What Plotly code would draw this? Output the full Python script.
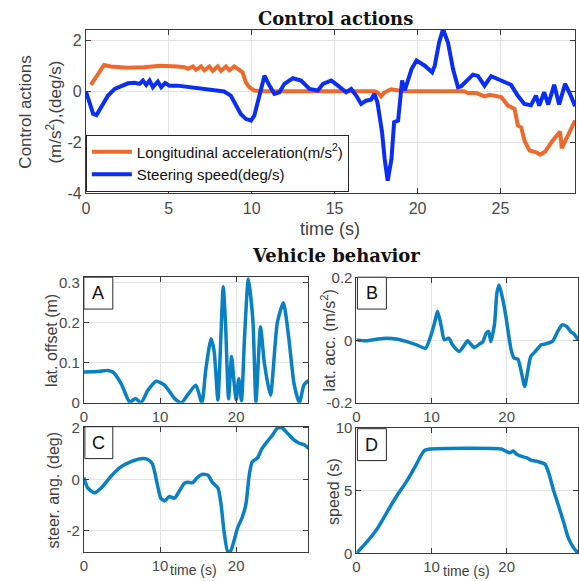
import plotly.graph_objects as go

# ---------------- data ----------------
acc_t = [0.3, 1.1, 1.5, 2.5, 3.5, 4.5, 5.5, 5.95, 6.15, 6.45, 6.65, 6.95, 7.15, 7.45, 7.65, 7.95,
         8.15, 8.45, 8.65, 8.95, 9.15, 9.45, 9.65, 9.85, 10.15, 10.6, 17.4, 17.6, 17.8, 18.0, 18.4,
         18.8, 19.2, 22.8, 23.05, 23.55, 24.05, 24.35, 25.05, 25.45, 25.85, 26.05, 26.25, 26.45,
         26.75, 27.15, 27.4, 27.7, 28.15, 28.6, 28.7, 29.5]
acc_v = [0.25, 1.03, 0.97, 0.92, 0.94, 1.0, 0.97, 0.94, 0.88, 0.97, 0.84, 0.97, 0.82, 0.97, 0.80, 0.97,
         0.80, 0.97, 0.82, 0.97, 0.88, 0.74, 0.35, 0.16, 0.03, 0.0, 0.0, -0.05, -0.2, -0.05, 0.08,
         0.03, 0.0, 0.0, -0.07, -0.07, -0.2, -0.14, -0.23, -0.56, -0.69, -1.34, -1.41, -1.93,
         -2.32, -2.39, -2.48, -2.36, -1.93, -1.58, -2.23, -1.15]

steer_t = [0, 0.2, 0.44, 0.64, 0.94, 1.34, 1.74, 2.14, 2.54, 2.94, 3.24, 3.44, 3.64, 3.84, 4.04, 4.34,
           4.54, 4.78, 5.04, 5.54, 6.04, 6.54, 7.14, 7.74, 8.34, 8.74, 9.04, 9.34, 9.64, 9.96, 10.16,
           10.36, 10.56, 10.77, 11.07, 11.37, 11.67, 11.97, 12.48, 12.98, 13.49, 13.99, 14.3, 14.8,
           15.2, 15.7, 16.0, 16.3, 16.6, 16.9, 17.2, 17.4, 17.58, 17.86, 18.02, 18.2, 18.43, 18.59,
           18.83, 18.93, 19.07, 19.23, 19.44, 19.64, 19.94, 20.44, 20.88, 21.04, 21.3, 21.54, 21.84,
           22.14, 22.44, 22.64, 23.34, 23.64, 24.04, 24.44, 25.04, 25.64, 26.04, 26.44, 26.84, 27.14,
           27.34, 27.64, 27.88, 28.24, 28.54, 28.9, 29.24, 29.5]
steer_v = [0, -0.43, -0.89, -0.93, -0.63, -0.17, 0.09, 0.22, 0.31, 0.33, 0.29, 0.42, 0.25, 0.42, 0.16, 0.38,
           0.16, 0.32, 0.22, 0.22, 0.18, 0.13, 0.12, 0.05, -0.01, -0.17, -0.56, -0.89, -1.08, -1.15, -0.95,
           -0.43, 0.22, 0.61, 0.22, -0.1, -0.04, 0.29, 0.51, 0.42, 0.09, 0.03, 0.29, 0.42,
           0.22, -0.04, 0.09, -0.17, -0.5, -0.37, -0.33, -0.1, -0.43, -1.6, -2.65, -3.5, -2.65, -1.21,
           -1.15, -0.56, 0.42, 0.03, 0.42, 0.87, 1.2, 1.0, 0.74, 1.0, 1.9, 2.43, 1.9,
           0.87, 0.16, 0.2, 0.65, 0.6, 0.22, 0.59, 0.42, 0.25, -0.17, -0.5, -0.55, -0.17,
           -0.56, -0.04, -0.52, 0.25, -0.52, 0.29, -0.17, -0.59]

lat_off_t = [0, 1.9, 3.1, 3.8, 4.9, 6.0, 6.4, 6.8, 7.5, 8.4, 9.5, 10.6, 11.9, 12.8, 13.6, 14.7, 15.5,
             16.0, 16.7, 17.1, 17.6, 17.9, 18.3, 18.6, 19.0, 19.4, 19.7, 20.0, 20.35, 20.7, 21.1,
             21.6, 22.2, 22.6, 23.2, 23.7, 24.5, 25.4, 26.2, 26.9, 27.6, 28.3, 28.9, 29.5]
lat_off_v = [0.077, 0.078, 0.081, 0.077, 0.048, 0.002, 0.006, 0.011, 0.0, 0.031, 0.054, 0.044, 0.011,
             0.0, 0.019, 0.044, 0.0, 0.081, 0.16, 0.13, 0.007, 0.12, 0.29, 0.2, 0.01, 0.116, 0.056,
             0.007, 0.06, 0.005, 0.164, 0.31, 0.205, 0.002, 0.19, 0.1, 0.019, 0.2, 0.25, 0.164,
             0.048, 0.0, 0.044, 0.056]

lat_acc_t = [0, 1.3, 2.65, 4.0, 5.3, 6.6, 8.0, 9.2, 9.8, 10.4, 10.8, 11.3, 11.7, 12.3, 12.8, 13.7,
             14.4, 14.8, 15.3, 15.7, 16.4, 16.8, 17.3, 17.6, 17.9, 18.4, 18.7, 19.0, 19.5, 19.9,
             20.6, 21.0, 21.5, 21.9, 22.4, 22.8, 23.2, 23.9, 24.6, 25.2, 26.1, 26.8, 27.4, 28.0,
             28.5, 29.0, 29.5]
lat_acc_v = [0.002, -0.001, 0.004, 0.0075, 0.005, -0.003, -0.014, -0.025, 0.0075, 0.056, 0.094, 0.045,
             0.002, 0.0075, -0.014, -0.035, -0.014, -0.001, -0.014, -0.023, -0.011, -0.005, 0.024,
             0.029, -0.003, 0.056, 0.152, 0.178, 0.13, 0.077, -0.03, -0.057, -0.06, -0.095, -0.148,
             -0.1, -0.052, -0.033, -0.014, -0.011, -0.003, 0.029, 0.05, 0.045, 0.029, 0.02, 0.002]

steer_ang_t = [0, 0.5, 1.4, 2.3, 3.6, 4.9, 6.2, 7.5, 8.4, 9.0, 9.7, 10.1, 10.6, 11.2, 11.9, 12.5, 13.2,
               13.6, 14.3, 14.9, 15.6, 16.3, 16.9, 17.6, 18.0, 18.4, 18.9, 19.3, 19.7, 20.2, 20.8,
               21.3, 21.7, 22.1, 22.8, 23.4, 24.1, 24.8, 25.4, 26.0, 26.7, 27.6, 28.3, 29.0, 29.5]
steer_ang_v = [0.07, -0.33, -0.53, -0.33, 0.13, 0.49, 0.69, 0.8, 0.77, 0.6, -0.27, -0.73, -0.84, -0.67,
               -0.73, -0.47, -0.16, -0.11, -0.13, 0.07, 0.2, 0.16, -0.13, -0.33, -0.93, -2.0, -2.8,
               -2.77, -2.4, -1.87, -1.47, -0.93, 0.13, 0.67, 0.83, 1.2, 1.47, 1.73, 1.98, 2.0, 1.8,
               1.53, 1.4, 1.33, 1.2]

speed_t = [0, 1.3, 2.7, 4.0, 5.3, 6.7, 8.0, 8.7, 9.1, 9.8, 19.3, 20.0, 20.4, 20.9, 21.3, 21.8, 22.7,
           23.3, 24.2, 25.1, 25.6, 26.2, 26.9, 27.6, 28.2, 28.9, 29.5]
speed_v = [0, 0.85, 1.9, 3.2, 4.5, 5.75, 7.1, 7.9, 8.2, 8.3, 8.3, 8.1, 8.0, 8.15, 7.9, 7.75, 7.6,
           7.4, 7.3, 7.1, 6.4, 5.1, 3.8, 2.45, 1.25, 0.45, 0.0]

top_xticks = [0, 5, 10, 15, 20, 25]
top_yticks = [-4, -2, 0, 2]
top_yticktext = ["-4", "-2", "0", "2"]
sub_xticks = [0, 10, 20]
a_yticks = [0, 0.1, 0.2, 0.3]
a_yticktext = ["0", "0.1", "0.2", "0.3"]
b_yticks = [-0.2, 0, 0.2]
b_yticktext = ["-0.2", "0", "0.2"]
c_yticks = [-2, 0, 2]
c_yticktext = ["-2", "0", "2"]
d_yticks = [0, 5, 10]
d_yticktext = ["0", "5", "10"]

# ---------------- figure ----------------
W, H = 579, 581
# map target picture pixels to paper fractions (compensates the capture's offset/scale)
def fx(px):
    return min(1.0, max(0.0, ((px - 2) / 0.993) / W))
def fy(py):
    return min(1.0, max(0.0, 1 - ((py - 8) / 0.972) / H))

ORANGE = "#EE6A2C"
BLUE = "#0A2EF5"
SUB = "#0A80C4"
TICKC = "#4a4a4a"
LINEC = "#3a3a3a"
GRIDC = "#e3e3e3"

fig = go.Figure()
fig.add_trace(go.Scatter(x=acc_t, y=acc_v, mode="lines", line=dict(color=ORANGE, width=4),
                         name="Longitudinal acceleration(m/s<sup>2</sup>)", xaxis="x", yaxis="y"))
fig.add_trace(go.Scatter(x=steer_t, y=steer_v, mode="lines", line=dict(color=BLUE, width=4),
                         name="Steering speed(deg/s)", xaxis="x", yaxis="y"))
for xs, ys, ax in [(lat_off_t, lat_off_v, 2), (lat_acc_t, lat_acc_v, 3),
                   (steer_ang_t, steer_ang_v, 4), (speed_t, speed_v, 5)]:
    fig.add_trace(go.Scatter(x=xs, y=ys, mode="lines", showlegend=False,
                             line=dict(color=SUB, width=3.5, shape="spline", smoothing=0.6),
                             xaxis=f"x{ax}", yaxis=f"y{ax}"))

def axstyle(fs, **kw):
    d = dict(showline=True, linecolor=LINEC, linewidth=1, mirror="ticks", ticks="inside",
             ticklen=5, tickcolor=LINEC, showgrid=True, gridcolor=GRIDC, gridwidth=1,
             zeroline=False, tickfont=dict(family="Liberation Sans", size=fs, color=TICKC))
    d.update(kw)
    return d

lay = dict(
    width=W, height=H, margin=dict(l=0, r=0, t=0, b=0),
    paper_bgcolor="white", plot_bgcolor="white",
    xaxis=axstyle(16, domain=[fx(84), fx(574)], range=[0, 29.5], tickvals=top_xticks, anchor="y"),
    yaxis=axstyle(16, domain=[fy(193), fy(29)], range=[-4, 2.4], tickvals=top_yticks,
                  ticktext=top_yticktext, anchor="x"),
    xaxis2=axstyle(15, domain=[fx(82), fx(307)], range=[0, 29.5], tickvals=sub_xticks, anchor="y2"),
    yaxis2=axstyle(15, domain=[fy(403), fy(277)], range=[0, 0.314], tickvals=a_yticks,
                   ticktext=a_yticktext, anchor="x2"),
    xaxis3=axstyle(15, domain=[fx(355), fx(577)], range=[0, 29.5], tickvals=sub_xticks, anchor="y3"),
    yaxis3=axstyle(15, domain=[fy(403), fy(278)], range=[-0.2, 0.2], tickvals=b_yticks,
                   ticktext=b_yticktext, anchor="x3"),
    xaxis4=axstyle(15, domain=[fx(82), fx(307)], range=[0, 29.5], tickvals=sub_xticks, anchor="y4"),
    yaxis4=axstyle(15, domain=[fy(553), fy(427)], range=[-2.83, 2.04], tickvals=c_yticks,
                   ticktext=c_yticktext, anchor="x4"),
    xaxis5=axstyle(15, domain=[fx(355), fx(577)], range=[0, 29.5], tickvals=sub_xticks, anchor="y5"),
    yaxis5=axstyle(15, domain=[fy(554), fy(428)], range=[0, 10], tickvals=d_yticks,
                   ticktext=d_yticktext, anchor="x5"),
    legend=dict(x=fx(84), y=fy(134), xanchor="left", yanchor="top", bgcolor="white",
                bordercolor="#262626", borderwidth=1, tracegroupgap=0,
                font=dict(family="Liberation Sans", size=15, color="#111"), itemwidth=40),
    showlegend=True,
)
fig.update_layout(**lay)

anns = []
def txt(x, y, s, size, angle=0, family="Liberation Sans", color="#404040", bold=False):
    anns.append(dict(x=fx(x), y=fy(y), xref="paper", yref="paper", text=(f"<b>{s}</b>" if bold else s),
                     showarrow=False, textangle=angle, xanchor="center", yanchor="middle",
                     font=dict(family=family, size=size, color=color)))

txt(334, 18, "Control actions", 18, family="DejaVu Serif", color="#111", bold=True)
txt(335, 255, "Vehicle behavior", 18, family="DejaVu Serif", color="#111", bold=True)
txt(24, 111, "Control actions", 17, angle=-90)
txt(52, 111, "(m/s<sup>2</sup>),(deg/s)", 17, angle=-90)
txt(329, 229, "time (s)", 18)
txt(50, 340, "lat. offset (m)", 16, angle=-90)
txt(327, 340, "lat. acc. (m/s<sup>2</sup>)", 16, angle=-90)
txt(52, 490, "steer. ang. (deg)", 16, angle=-90)
txt(332, 492, "speed (s)", 16, angle=-90)
txt(192, 571, "time (s)", 14)
txt(465, 572, "time (s)", 14)

shapes = []
for (x0, y0, x1, y1, lab) in [(82, 277, 111, 309, "A"), (356, 277, 385, 309, "B"),
                              (83, 427, 111, 459, "C"), (356, 429, 385, 461, "D")]:
    shapes.append(dict(type="rect", xref="paper", yref="paper", x0=fx(x0), x1=fx(x1), y0=fy(y1), y1=fy(y0),
                       line=dict(color="#262626", width=1), fillcolor="white", layer="above"))
    txt((x0 + x1) / 2, (y0 + y1) / 2, lab, 18, color="#111")

fig.update_layout(annotations=anns, shapes=shapes)
fig.write_html(
    "out.html",
    config={"displayModeBar": False},
    post_script=("document.documentElement.style.margin='0';document.body.style.margin='0';"
                 "document.body.style.overflow='hidden';"
                 "var d=document.getElementById('{plot_id}');d.style.position='fixed';"
                 "d.style.left='0px';d.style.top='0px';"),
)
